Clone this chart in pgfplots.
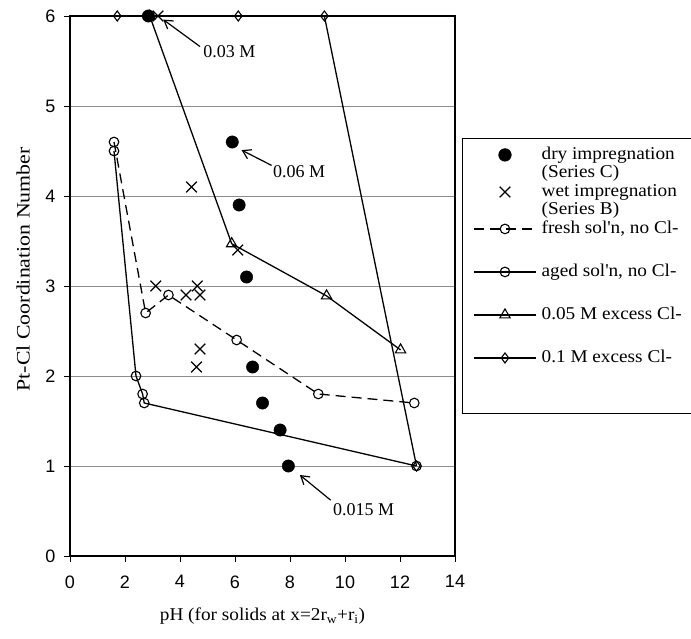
\documentclass[border=0pt]{standalone}
\usepackage{fontspec}
\setmainfont{Liberation Serif}[FakeStretch=1.07]
\newfontfamily\ylabfont{Liberation Serif}[FakeStretch=1.15]
\newfontfamily\annfont{Liberation Serif}
\newfontfamily\tickfont{Liberation Sans}
\usepackage{pgfplots}
\pgfplotsset{compat=1.18}
\usetikzlibrary{arrows.meta}

\begin{document}
\begin{tikzpicture}
\useasboundingbox (0,0) rectangle (691pt,638pt);
\begin{axis}[
  at={(70pt,82pt)}, anchor=south west,
  scale only axis, width=385pt, height=540pt,
  xmin=0, xmax=14, ymin=0, ymax=6,
  xtick={0,2,...,14}, ytick={0,1,...,6},
  xtick pos=left, ytick pos=left,
  tick align=outside, major tick length=6pt,
  ymajorgrids, grid style={black!45,line width=0.7pt},
  axis line style={line width=1.4pt},
  tick style={black,line width=0.9pt},
  clip=false,
  /pgf/number format/assume math mode=true,
  ticklabel style={font=\tickfont\fontsize{18}{18}\selectfont},
  xticklabel style={yshift=-10pt},
  yticklabel style={xshift=-5pt},
  xlabel={pH (for solids at x=2r\textsubscript{w}+r\textsubscript{i})},
  ylabel={Pt-Cl Coordination Number},
  every axis x label/.style={at={(axis description cs:0.5,-0.09)},anchor=north,
    font=\fontsize{18}{20}\selectfont},
  every axis y label/.style={at={(axis description cs:-0.122,0.531)},anchor=center,rotate=90,
    font=\ylabfont\fontsize{19}{20}\selectfont},
  legend style={at={(rel axis cs:1.018,0.774)}, anchor=north west,
    draw=black, line width=0.8pt, fill=white,
    font=\fontsize{18}{18}\selectfont,
    inner xsep=11pt, inner ysep=8pt, row sep=1pt, column sep=5pt,
    nodes={inner sep=0pt,text depth=},
    cells={anchor=base west}},
  legend image code/.code={\path[draw=none,fill=none] (0pt,4.5pt) rectangle (62pt,4.6pt);
    \draw[mark repeat=2,mark phase=2]
    plot coordinates {(0pt,4.5pt) (31pt,4.5pt) (62pt,4.5pt)};},
]
% dry impregnation (Series C)
\addplot[only marks,mark=*,mark size=6.2pt,black] coordinates {
  (2.85,6) (5.9,4.6) (6.15,3.9) (6.42,3.1) (6.64,2.1) (7.0,1.7) (7.64,1.4) (7.94,1.0)};
\addlegendentry{\parbox[t]{160pt}{\rule{0pt}{13pt}dry impregnation\\(Series C)\rule[-5pt]{0pt}{5pt}}}
% wet impregnation (Series B)
\addplot[only marks,mark=x,mark size=7.5pt,black,line width=1.3pt] coordinates {
  (3.2,6) (4.42,4.1) (6.1,3.4) (3.12,3.0) (4.63,3.0) (4.22,2.9) (4.73,2.9) (4.73,2.3) (4.6,2.1)};
\addlegendentry{\parbox[t]{160pt}{\rule{0pt}{13pt}wet impregnation\\(Series B)\rule[-5pt]{0pt}{5pt}}}
% fresh sol'n, no Cl-
\addplot[black,line width=1.3pt,dash pattern=on 10pt off 6pt,mark=o,mark size=4.8pt,
  mark options={solid,fill=white,line width=1.1pt}] coordinates {
  (1.6,4.6) (2.75,2.7) (3.58,2.9) (6.06,2.4) (9.03,1.8) (12.52,1.7)};
\addlegendentry{\parbox[t]{160pt}{\rule[-29pt]{0pt}{42pt}fresh sol\textquotesingle n, no Cl-}}
% aged sol'n, no Cl-
\addplot[black,line width=1.3pt,mark=o,mark size=4.8pt,
  mark options={fill=white,line width=1.1pt}] coordinates {
  (1.6,4.5) (2.4,2.0) (2.64,1.8) (2.7,1.7) (12.6,1.0)};
\addlegendentry{\parbox[t]{160pt}{\rule[-29pt]{0pt}{42pt}aged sol\textquotesingle n, no Cl-}}
% 0.05 M excess Cl-
\addplot[black,line width=1.3pt,mark=triangle,mark size=6pt,
  mark options={fill=white,line width=1.1pt}] coordinates {
  (2.9,6) (5.88,3.47) (9.33,2.89) (12.02,2.29)};
\addlegendentry{\parbox[t]{160pt}{\rule[-29pt]{0pt}{42pt}0.05 M excess Cl-}}
% 0.1 M excess Cl-
\addplot[black,line width=1.3pt,mark=diamond,mark size=5pt,
  mark options={fill=white,line width=1.1pt}] coordinates {
  (1.72,6) (2.85,6) (6.12,6) (9.25,6) (12.6,1.0)};
\addlegendentry{\parbox[t]{160pt}{\rule[-43pt]{0pt}{56pt}0.1 M excess Cl-}}
% annotations
\draw[line width=1.2pt,-{Straight Barb[length=8pt,width=10pt]}] (axis cs:4.73,5.66) -- (axis cs:3.39,5.96);
\node[anchor=west,inner sep=0pt,font=\annfont\fontsize{18}{18}\selectfont] at (axis cs:4.84,5.6) {0.03 M};
\draw[line width=1.2pt,-{Straight Barb[length=8pt,width=10pt]}] (axis cs:7.33,4.34) -- (axis cs:6.24,4.51);
\node[anchor=west,inner sep=0pt,font=\annfont\fontsize{18}{18}\selectfont] at (axis cs:7.38,4.27) {0.06 M};
\draw[line width=1.2pt,-{Straight Barb[length=8pt,width=10pt]}] (axis cs:9.48,0.62) -- (axis cs:8.36,0.9);
\node[anchor=west,inner sep=0pt,font=\annfont\fontsize{18}{18}\selectfont] at (axis cs:9.56,0.51) {0.015 M};
\end{axis}
\end{tikzpicture}
\end{document}
